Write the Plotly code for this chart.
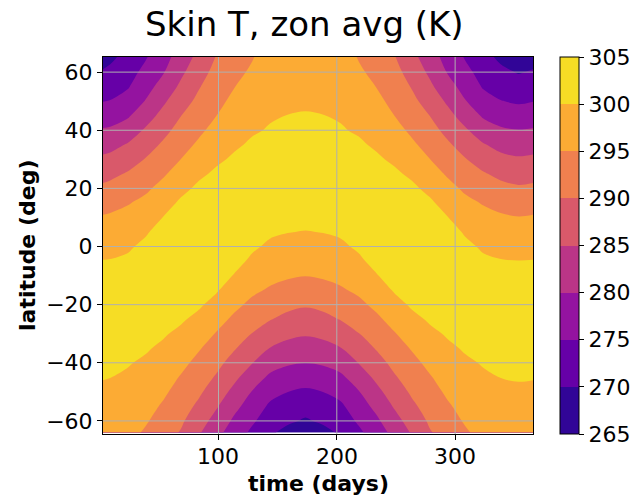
import plotly.graph_objects as go

# ---- data (zonal-mean skin temperature, K) ----
days = [2.4, 8.5, 23.5, 38.5, 53.5, 68.5, 83.5, 98.5, 113.5, 128.5, 143.5, 158.5, 173.5,
        188.5, 203.5, 218.5, 233.5, 248.5, 263.5, 278.5, 293.5, 308.5, 323.5, 338.5, 353.5, 365.8]
lats = [-64.0, -60, -55, -50, -45, -40, -35, -30, -25, -20, -15, -10, -5, 0,
        5, 10, 15, 20, 25, 30, 35, 40, 45, 50, 55, 60, 65.2]

# one temperature profile (south -> north) per time column
t_day002 = [298.4, 298.76, 299.2, 299.64, 300.09, 300.53, 300.98, 301.42, 301.87, 302.31, 302.76, 301.71, 300.13, 298.54,
            296.96, 295.38, 293.24, 290.93, 288.45, 285.88, 283.19, 280.44, 277.67, 274.91, 272.68, 270.45, 268.1]
t_day008 = [297.9, 298.34, 298.9, 299.46, 300.03, 300.57, 301.12, 301.68, 302.23, 302.79, 303.23, 301.75, 300.21, 298.68,
            297.15, 295.61, 293.62, 291.33, 288.91, 286.3, 283.56, 280.69, 277.91, 275.16, 273.09, 271.06, 269.0]
t_day024 = [296.5, 297.13, 297.91, 298.69, 299.47, 300.25, 301.03, 301.81, 302.59, 303.37, 303.5, 302.35, 300.84, 299.34,
            297.83, 296.33, 294.74, 292.59, 290.43, 287.96, 285.41, 282.44, 279.49, 276.94, 274.64, 273.15, 271.6]
t_day039 = [294.4, 295.45, 296.44, 297.43, 298.42, 299.41, 300.4, 301.38, 302.37, 303.36, 303.5, 303.5, 302.84, 301.15,
            299.46, 297.77, 296.08, 294.27, 292.26, 290.24, 287.94, 285.61, 282.99, 280.27, 278.27, 276.35, 274.6]
t_day054 = [292.0, 293.09, 294.45, 295.71, 296.89, 298.07, 299.25, 300.42, 301.6, 302.78, 303.5, 303.5, 303.5, 303.5,
            302.05, 300.15, 298.26, 296.36, 294.48, 292.61, 290.75, 288.7, 286.52, 284.29, 281.9, 279.73, 278.3]
t_day069 = [289.6, 290.66, 291.99, 293.32, 294.65, 296.09, 297.57, 299.05, 300.53, 302.01, 303.49, 303.5, 303.5, 303.5,
            303.5, 302.65, 300.76, 298.86, 296.97, 295.08, 293.38, 291.69, 289.98, 288.0, 286.0, 284.09, 282.2]
t_day084 = [285.5, 287.07, 289.02, 290.76, 292.27, 293.79, 295.35, 297.1, 298.85, 300.6, 302.35, 303.5, 303.5, 303.5,
            303.5, 303.5, 302.6, 300.89, 299.18, 297.47, 295.75, 294.17, 292.68, 291.19, 289.69, 288.13, 286.5]
t_day099 = [281.4, 283.2, 285.41, 287.44, 289.47, 291.27, 292.98, 294.69, 296.56, 298.47, 300.38, 302.29, 303.5, 303.5,
            303.5, 303.5, 303.5, 302.18, 300.75, 299.31, 297.87, 296.44, 295.02, 293.84, 292.67, 291.51, 290.3]
t_day114 = [277.6, 279.08, 281.23, 283.68, 286.01, 288.2, 290.34, 292.23, 294.13, 296.02, 297.85, 299.7, 301.55, 303.4,
            303.5, 303.5, 303.5, 302.86, 301.73, 300.59, 299.45, 298.32, 297.18, 296.05, 294.91, 293.73, 292.5]
t_day129 = [274.0, 275.73, 277.74, 279.76, 282.42, 285.14, 287.52, 289.9, 291.95, 293.98, 295.82, 297.47, 299.11, 300.76,
            302.4, 303.5, 303.5, 303.42, 302.46, 301.5, 300.54, 299.58, 298.62, 297.65, 296.69, 295.73, 294.7]
t_day144 = [270.8, 272.31, 274.2, 276.53, 279.16, 281.98, 284.88, 287.58, 290.22, 292.37, 294.53, 296.17, 297.68, 299.19,
            300.69, 302.2, 303.22, 302.63, 302.04, 301.45, 300.86, 300.27, 299.68, 299.09, 298.5, 297.91, 297.3]
t_day159 = [268.4, 270.83, 272.92, 275.02, 277.78, 280.57, 283.41, 286.15, 288.75, 291.19, 293.49, 295.52, 297.06, 298.59,
            300.12, 301.66, 302.48, 302.07, 301.66, 301.26, 300.85, 300.45, 300.04, 299.63, 299.23, 298.82, 298.4]
t_day174 = [267.5, 269.42, 271.84, 274.27, 277.06, 280.02, 282.75, 285.46, 288.01, 290.51, 292.82, 295.09, 296.68, 298.26,
            299.84, 301.42, 302.04, 301.72, 301.39, 301.07, 300.75, 300.43, 300.1, 299.78, 299.46, 299.14, 298.8]
t_day189 = [268.4, 270.83, 272.92, 275.02, 277.78, 280.57, 283.41, 286.15, 288.75, 291.19, 293.49, 295.52, 297.06, 298.59,
            300.12, 301.66, 302.48, 302.07, 301.66, 301.26, 300.85, 300.45, 300.04, 299.63, 299.23, 298.82, 298.4]
t_day204 = [270.8, 272.31, 274.2, 276.53, 279.16, 281.98, 284.88, 287.58, 290.22, 292.37, 294.53, 296.17, 297.68, 299.19,
            300.69, 302.2, 303.22, 302.63, 302.04, 301.45, 300.86, 300.27, 299.68, 299.09, 298.5, 297.91, 297.3]
t_day219 = [274.0, 275.73, 277.74, 279.76, 282.42, 285.14, 287.52, 289.9, 291.95, 293.98, 295.82, 297.47, 299.11, 300.76,
            302.4, 303.5, 303.5, 303.42, 302.46, 301.5, 300.54, 299.58, 298.62, 297.65, 296.69, 295.73, 294.7]
t_day234 = [277.6, 279.08, 281.23, 283.68, 286.01, 288.2, 290.34, 292.23, 294.13, 296.02, 297.85, 299.7, 301.55, 303.4,
            303.5, 303.5, 303.5, 302.86, 301.73, 300.59, 299.45, 298.32, 297.18, 296.05, 294.91, 293.73, 292.5]
t_day249 = [281.4, 283.2, 285.41, 287.44, 289.47, 291.27, 292.98, 294.69, 296.56, 298.47, 300.38, 302.29, 303.5, 303.5,
            303.5, 303.5, 303.5, 302.18, 300.75, 299.31, 297.87, 296.44, 295.02, 293.84, 292.67, 291.51, 290.3]
t_day264 = [285.5, 287.07, 289.02, 290.76, 292.27, 293.79, 295.35, 297.1, 298.85, 300.6, 302.35, 303.5, 303.5, 303.5,
            303.5, 303.5, 302.6, 300.89, 299.18, 297.47, 295.75, 294.17, 292.68, 291.19, 289.69, 288.13, 286.5]
t_day279 = [289.6, 290.66, 291.99, 293.32, 294.65, 296.09, 297.57, 299.05, 300.53, 302.01, 303.49, 303.5, 303.5, 303.5,
            303.5, 302.65, 300.76, 298.86, 296.97, 295.08, 293.38, 291.69, 289.98, 288.0, 286.0, 284.09, 282.2]
t_day294 = [292.0, 293.09, 294.45, 295.71, 296.89, 298.07, 299.25, 300.42, 301.6, 302.78, 303.5, 303.5, 303.5, 303.5,
            302.05, 300.15, 298.26, 296.36, 294.48, 292.61, 290.75, 288.7, 286.52, 284.29, 281.9, 279.73, 278.3]
t_day309 = [294.4, 295.45, 296.44, 297.43, 298.42, 299.41, 300.4, 301.38, 302.37, 303.36, 303.5, 303.5, 302.84, 301.15,
            299.46, 297.77, 296.08, 294.27, 292.26, 290.24, 287.94, 285.61, 282.99, 280.27, 278.27, 276.35, 274.6]
t_day324 = [296.5, 297.13, 297.91, 298.69, 299.47, 300.25, 301.03, 301.81, 302.59, 303.37, 303.5, 302.35, 300.84, 299.34,
            297.83, 296.33, 294.74, 292.59, 290.43, 287.96, 285.41, 282.44, 279.49, 276.94, 274.64, 273.15, 271.6]
t_day339 = [297.9, 298.34, 298.9, 299.46, 300.03, 300.57, 301.12, 301.68, 302.23, 302.79, 303.23, 301.75, 300.21, 298.68,
            297.15, 295.61, 293.62, 291.33, 288.91, 286.3, 283.56, 280.69, 277.91, 275.16, 273.09, 271.06, 269.0]
t_day354 = [298.7, 298.98, 299.35, 299.73, 300.12, 300.49, 300.86, 301.23, 301.61, 301.98, 302.35, 301.7, 300.07, 298.43,
            296.8, 295.16, 292.92, 290.6, 288.11, 285.56, 282.86, 280.11, 277.21, 274.43, 272.05, 269.69, 267.4]
t_day366 = [298.4, 298.76, 299.2, 299.64, 300.09, 300.53, 300.98, 301.42, 301.87, 302.31, 302.76, 301.71, 300.13, 298.54,
            296.96, 295.38, 293.24, 290.93, 288.45, 285.88, 283.19, 280.44, 277.67, 274.91, 272.68, 270.45, 268.1]

levels = [265, 270, 275, 280, 285, 290, 295, 300, 305]
x_ticks = [100, 200, 300]
y_ticks = [-60, -40, -20, 0, 20, 40, 60]

# ---- build the figure ----
columns = [t_day002, t_day008, t_day024, t_day039, t_day054, t_day069, t_day084, t_day099, t_day114,
           t_day129, t_day144, t_day159, t_day174, t_day189, t_day204, t_day219, t_day234, t_day249,
           t_day264, t_day279, t_day294, t_day309, t_day324, t_day339, t_day354, t_day366]
skin_t = [[col[i] for col in columns] for i in range(len(lats))]

band_colors = ['#310597', '#6600a7', '#9413a0', '#bb3587',
               '#d9596a', '#f0804f', '#fcab34', '#f6dd25']
nb = len(band_colors)
colorscale = []
for k, c in enumerate(band_colors):
    colorscale.append([k / nb, c])
    colorscale.append([(k + 1) / nb, c])

FONT = "DejaVu Sans"
W, H = 638, 502
ML, MR, MT, MB = 103, 105, 57, 68
PW, PH = W - ML - MR, H - MT - MB


def py(pix):
    """pixel row (from top of figure) -> paper y"""
    return (MT + PH - pix) / PH


def px(pix):
    """pixel column -> paper x"""
    return (pix - ML) / PW


fig = go.Figure()
fig.add_trace(go.Contour(
    x=days, y=lats, z=skin_t,
    zmin=levels[0], zmax=levels[-1], zauto=False,
    colorscale=colorscale,
    contours=dict(start=levels[0], end=levels[-1], size=levels[1] - levels[0],
                  coloring='fill', showlines=False),
    line=dict(width=0, smoothing=1.0),
    hoverinfo='skip',
    colorbar=dict(
        x=px(560), xanchor='left', xpad=0,
        y=0.5, yanchor='middle', ypad=0,
        len=1.0, lenmode='fraction', thickness=19,
        outlinewidth=1, outlinecolor='black',
        tickvals=levels, ticktext=[str(v) for v in levels],
        ticks='outside', ticklen=5, tickwidth=1, tickcolor='black',
        tickfont=dict(family=FONT, size=22, color='black'),
    ),
))

grid_color = '#b0b0b0'
shapes = []
for xv in x_ticks:
    shapes.append(dict(type='line', xref='x', yref='paper', x0=xv, x1=xv, y0=0, y1=1,
                       line=dict(color=grid_color, width=1), layer='above'))
for yv in y_ticks:
    shapes.append(dict(type='line', xref='paper', yref='y', x0=0, x1=1, y0=yv, y1=yv,
                       line=dict(color=grid_color, width=1), layer='above'))

axis_common = dict(
    ticks='outside', ticklen=5, tickwidth=1, tickcolor='black',
    showline=True, linecolor='black', linewidth=1, mirror=True,
    showgrid=False, zeroline=False,
    tickfont=dict(family=FONT, size=22, color='black'),
)

annotations = [
    dict(text='Skin T, zon avg (K)', xref='paper', yref='paper',
         x=px(304.5), y=py(24), xanchor='center', yanchor='middle',
         showarrow=False, font=dict(family=FONT, size=34, color='black')),
    dict(text='<b>time (days)</b>', xref='paper', yref='paper',
         x=0.5, y=py(483), xanchor='center', yanchor='middle',
         showarrow=False, font=dict(family=FONT, size=22, color='black')),
    dict(text='<b>latitude (deg)</b>', xref='paper', yref='paper', textangle=-90,
         x=px(27), y=py(246), xanchor='center', yanchor='middle',
         showarrow=False, font=dict(family=FONT, size=22, color='black')),
]
# x tick labels as text placed at the tick values
for xv in x_ticks:
    annotations.append(dict(text=str(xv), xref='x', yref='paper', x=xv, y=py(456),
                            xanchor='center', yanchor='middle', showarrow=False,
                            font=dict(family=FONT, size=22, color='black')))

fig.update_layout(
    width=W, height=H,
    margin=dict(l=ML, r=MR, t=MT, b=MB, pad=0, autoexpand=False),
    paper_bgcolor='white', plot_bgcolor='white',
    font=dict(family=FONT, color='black'),
    xaxis=dict(range=[days[0], days[-1]], tickvals=x_ticks, showticklabels=False, **axis_common),
    yaxis=dict(range=[-64.5, 65.2], tickvals=y_ticks,
               ticktext=[str(v).replace('-', '\u2212') for v in y_ticks], **axis_common),
    shapes=shapes,
    annotations=annotations,
)

fig.write_html("out.html")
